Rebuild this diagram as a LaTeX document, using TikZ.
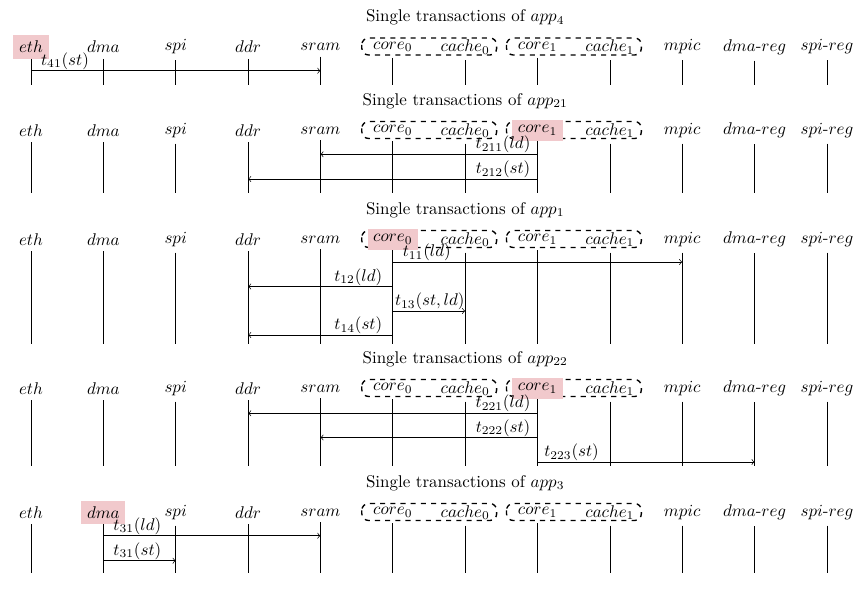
\documentclass[tikz,border=0pt]{standalone}
\usetikzlibrary{calc,backgrounds}
\definecolor{hlpink}{RGB}{241,201,204}
\tikzset{
  lbl/.style={inner sep=0.3333em},
  hl/.style={fill=hlpink},
  life/.style={line width=0.4pt},
  grp/.style={draw, dashed, thick, rounded corners=4pt},
  msgl/.style={->},
  mlab/.style={anchor=base, inner sep=0pt},
  ttl/.style={anchor=base},
}
\newcommand\panelnames{eth/$eth$,dma/$dma$,spi/$spi$,ddr/$ddr$,sram/$sram$,coreA/$core_0$,cacheA/$cache_0$,coreB/$core_1$,cacheB/$cache_1$,mpic/$mpic$,dmareg/$dma$-$reg$,spireg/$spi$-$reg$}
% #1 panel id, #2 label row y, #3 lifeline bottom y, #4 app index, #5 highlighted name
\newcommand\drawpanel[5]{%
  \node[ttl] (p#1title) at (465.2,{#2-25.5}) {Single transactions of $app_{#4}$};
  \coordinate (p#1bot) at (0,#3);
  \def\hlname{#5}%
  \foreach \n/\t [count=\i from 0] in \panelnames {%
    \edef\cur{\n}%
    \ifx\cur\hlname
      \node[lbl,hl] (p#1\n) at ({31+72.36*\i},#2) {\t};
    \else
      \node[lbl] (p#1\n) at ({31+72.36*\i},#2) {\t};
    \fi
  }
  \begin{scope}[on background layer]
    \draw[grp] ($(p#1coreA.center)+(-31,-9)$) rectangle ($(p#1cacheA.center)+(31.5,8)$);
    \draw[grp] ($(p#1coreB.center)+(-31,-9)$) rectangle ($(p#1cacheB.center)+(31.5,8)$);
  \end{scope}
  \foreach \n/\t in \panelnames {%
    \draw[life] (p#1\n.south) -- (p#1\n.south |- p#1bot);
  }
}
% #1 panel, #2 from, #3 to, #4 y, #5 label x offset, #6 label
\newcommand\msg[6]{%
  \draw[msgl] (p#1#2.south |- 0,#4) -- (p#1#3.south |- 0,#4);
  \node[mlab] (m#1#2#3) at ($(p#1#2.south |- 0,#4)+(#5,-5.5)$) {#6};
}
\begin{document}
\begin{tikzpicture}[x=0.5896pt,y=-0.5896pt]
\useasboundingbox (0,0) rectangle (868,589);

\drawpanel{1}{47}{85}{4}{eth}
\msg{1}{eth}{sram}{70.7}{34}{$t_{41}(st)$}

\drawpanel{2}{130.5}{192.7}{21}{coreB}
\msg{2}{coreB}{sram}{154.3}{-34.5}{$t_{211}(ld)$}
\msg{2}{coreB}{ddr}{179}{-34.5}{$t_{212}(st)$}

\drawpanel{3}{239.5}{344}{1}{coreA}
\msg{3}{coreA}{mpic}{262}{34}{$t_{11}(ld)$}
\msg{3}{coreA}{ddr}{286.5}{-34.5}{$t_{12}(ld)$}
\msg{3}{coreA}{cacheA}{311}{37}{$t_{13}(st,ld)$}
\msg{3}{coreA}{ddr}{335}{-34.5}{$t_{14}(st)$}

\drawpanel{4}{388.5}{466}{22}{coreB}
\msg{4}{coreB}{ddr}{413.3}{-34.5}{$t_{221}(ld)$}
\msg{4}{coreB}{sram}{437.5}{-34.5}{$t_{222}(st)$}
\msg{4}{coreB}{dmareg}{462}{34}{$t_{223}(st)$}

\drawpanel{5}{512.5}{573.3}{3}{dma}
\msg{5}{dma}{sram}{535.7}{34}{$t_{31}(ld)$}
\msg{5}{dma}{spi}{560.7}{34}{$t_{31}(st)$}
\end{tikzpicture}
\end{document}
